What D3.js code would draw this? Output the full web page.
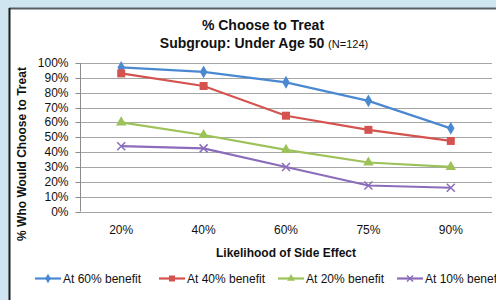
<!DOCTYPE html>
<meta charset="utf-8">
<style>
body { margin: 0; background: #cfe5ef; }
text { font-family: "Liberation Sans", Arial, sans-serif; fill: #111; }
.grid line { stroke: #a6a6a6; stroke-width: 1; }
.axis path, .axis line { stroke: #8c8c8c; }
</style>
<body>
<script src="https://d3js.org/d3.v7.min.js"></script>
<script>

// data
var categories = ["20%", "40%", "60%", "75%", "90%"];
var seriesNames = ["At 60% benefit", "At 40% benefit", "At 20% benefit", "At 10% benefit"];
var at60 = [0.97, 0.94, 0.87, 0.745, 0.56];
var at40 = [0.93, 0.845, 0.645, 0.55, 0.475];
var at20 = [0.60, 0.515, 0.415, 0.33, 0.30];
var at10 = [0.44, 0.425, 0.30, 0.175, 0.16];
var yTicks = [0, 0.1, 0.2, 0.3, 0.4, 0.5, 0.6, 0.7, 0.8, 0.9, 1];

var colors = ["#4a89d2", "#d4534e", "#9cc259", "#8b6cba"];
var symbols = ["diamond", "square", "triangle", "cross"];

var width = 496, height = 300;

var svg = d3.select("body").append("svg")
    .attr("width", width)
    .attr("height", height);

// white panel with dark edges
svg.append("rect").attr("x", 9).attr("y", 8).attr("width", width).attr("height", height)
    .attr("fill", "#fff");
svg.append("line").attr("x1", 9).attr("x2", width).attr("y1", 8.5).attr("y2", 8.5)
    .attr("stroke", "#595e63").attr("stroke-width", 2);
svg.append("line").attr("x1", 9.5).attr("x2", 9.5).attr("y1", 8).attr("y2", height)
    .attr("stroke", "#1d1d1d").attr("stroke-width", 2);

var x = d3.scalePoint()
    .domain(categories)
    .range([80, 492])
    .padding(0.5);

var y = d3.scaleLinear()
    .domain([0, 1])
    .range([211.5, 63]);

// gridlines
svg.append("g").attr("class", "grid")
  .selectAll("line")
    .data(yTicks)
  .enter().append("line")
    .attr("x1", 80).attr("x2", 492)
    .attr("y1", function(d) { return Math.round(y(d)) + 0.5; })
    .attr("y2", function(d) { return Math.round(y(d)) + 0.5; });

// y axis
var yAxis = svg.append("g").attr("class", "axis")
    .attr("transform", "translate(80.5,0)")
    .call(d3.axisLeft(y).tickValues(yTicks).tickFormat(d3.format(".0%")).tickSize(5).tickSizeOuter(0));
yAxis.select(".domain").attr("d", "M0," + y(1) + "V" + y(0));
yAxis.selectAll(".tick").attr("transform", function(d) { return "translate(0," + (Math.round(y(d)) + 0.5) + ")"; });
yAxis.selectAll("text")
    .attr("x", -12)
    .style("font-size", "12px")
    .style("font-family", "Liberation Sans, Arial, sans-serif")
    .attr("fill", "#111");

// x labels
svg.append("g")
  .selectAll("text")
    .data(categories)
  .enter().append("text")
    .attr("x", function(d) { return x(d); })
    .attr("y", 234)
    .attr("text-anchor", "middle")
    .style("font-size", "12px")
    .text(function(d) { return d; });

// titles
var title = svg.append("text")
    .attr("x", 263)
    .attr("y", 30)
    .attr("text-anchor", "middle")
    .style("font-size", "14px")
    .style("font-weight", "bold");
title.text("% Choose to Treat");

var sub = svg.append("text")
    .attr("x", 264)
    .attr("y", 48)
    .attr("text-anchor", "middle")
    .style("font-size", "14px")
    .style("font-weight", "bold");
sub.append("tspan").text("Subgroup: Under Age 50 ");
sub.append("tspan").style("font-size", "11px").style("font-weight", "normal").text("(N=124)");

svg.append("text")
    .attr("x", 286)
    .attr("y", 257)
    .attr("text-anchor", "middle")
    .style("font-size", "12px")
    .style("font-weight", "bold")
    .text("Likelihood of Side Effect");

svg.append("text")
    .attr("transform", "translate(26,154) rotate(-90)")
    .attr("text-anchor", "middle")
    .style("font-size", "12px")
    .style("font-weight", "bold")
    .text("% Who Would Choose to Treat");

// series
var series = [at60, at40, at20, at10];

var line = d3.line()
    .x(function(d, i) { return x(categories[i]); })
    .y(function(d) { return y(d); });

function marker(sel, k, size) {
    var c = colors[k];
    if (symbols[k] === "cross") {
        var s = size * 0.5;
        sel.append("path")
            .attr("d", "M" + -s + "," + -s + "L" + s + "," + s + "M" + -s + "," + s + "L" + s + "," + -s)
            .attr("stroke", c).attr("stroke-width", 1.5).attr("fill", "none");
    } else {
        var type = { diamond: d3.symbolDiamond, square: d3.symbolSquare, triangle: d3.symbolTriangle }[symbols[k]];
        var area = { diamond: size * size * 0.75, square: size * size, triangle: size * size * 0.75 }[symbols[k]];
        sel.append("path")
            .attr("d", d3.symbol().type(type).size(area)())
            .attr("fill", c);
    }
}

series.forEach(function(vals, k) {
    var g = svg.append("g");
    g.append("path")
        .attr("d", line(vals))
        .attr("fill", "none")
        .attr("stroke", colors[k])
        .attr("stroke-width", 2.2);
    g.selectAll("g")
        .data(vals)
      .enter().append("g")
        .attr("transform", function(d, i) { return "translate(" + x(categories[i]) + "," + y(d) + ")"; })
        .each(function() { marker(d3.select(this), k, 8); });
});

// legend
var legendX = [35, 159, 278, 397];
var leg = svg.append("g").selectAll("g")
    .data(seriesNames)
  .enter().append("g")
    .attr("transform", function(d, i) { return "translate(" + legendX[i] + ",278.5)"; });

leg.append("line")
    .attr("x1", 0).attr("x2", 26)
    .attr("stroke", function(d, i) { return colors[i]; })
    .attr("stroke-width", 2.2);
leg.each(function(d, i) {
    var m = d3.select(this).append("g").attr("transform", "translate(13,0)");
    marker(m, i, 6);
});
leg.append("text")
    .attr("x", 28)
    .attr("y", 4)
    .style("font-size", "12px")
    .text(function(d) { return d; });

</script>
